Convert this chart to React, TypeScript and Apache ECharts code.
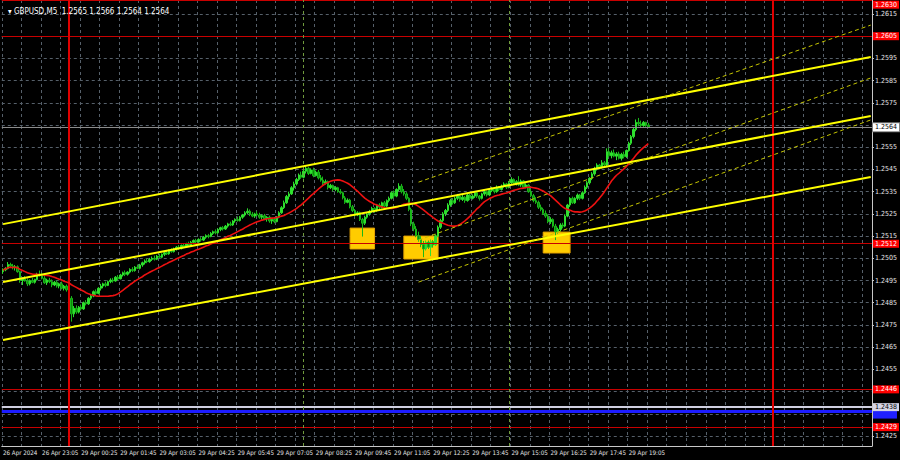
import { useEffect, useRef } from "react";
import * as echarts from "echarts";

const symbol = "GBPUSD";
const period = "M5";
const FONT = "'Liberation Sans Narrow','DejaVu Sans Condensed','Liberation Sans',Arial,sans-serif";

// ---- bars: [open, high, low, close] (M5) ----
const fridayBars = [
  [1.24990,1.25005,1.24980,1.24998],[1.24998,1.25010,1.24992,1.25004],[1.25004,1.25033,1.25000,1.25022],
  [1.25022,1.25030,1.25008,1.25015],[1.25015,1.25025,1.25000,1.25008],[1.25008,1.25020,1.24995,1.25012],
  [1.25012,1.25018,1.24985,1.24990],[1.24990,1.24994,1.24940,1.24950],[1.24950,1.24965,1.24930,1.24958],
  [1.24958,1.24970,1.24945,1.24948],[1.24948,1.24960,1.24925,1.24935],[1.24935,1.24955,1.24928,1.24950],
  [1.24950,1.24962,1.24938,1.24942],[1.24942,1.24958,1.24936,1.24955],[1.24955,1.24985,1.24950,1.24978],
  [1.24978,1.24995,1.24968,1.24972],[1.24972,1.24985,1.24955,1.24960],[1.24960,1.24970,1.24935,1.24940],
  [1.24940,1.24958,1.24930,1.24952],[1.24952,1.24962,1.24938,1.24945],[1.24945,1.24955,1.24920,1.24930],
  [1.24930,1.24948,1.24925,1.24942],[1.24942,1.24950,1.24918,1.24925],[1.24925,1.24940,1.24915,1.24935],
  [1.24935,1.24945,1.24910,1.24915],[1.24915,1.24930,1.24905,1.24925],[1.24925,1.24932,1.24900,1.24908],
];
const asiaBars = [
  [1.24908,1.24915,1.24860,1.24870],[1.24870,1.24880,1.24765,1.24800],[1.24800,1.24835,1.24785,1.24825],
  [1.24825,1.24838,1.24800,1.24808],[1.24808,1.24835,1.24802,1.24830],[1.24830,1.24842,1.24815,1.24822],
  [1.24822,1.24855,1.24818,1.24850],[1.24850,1.24862,1.24838,1.24845],[1.24845,1.24875,1.24840,1.24870],
  [1.24870,1.24888,1.24862,1.24880],[1.24880,1.24905,1.24875,1.24900],[1.24900,1.24910,1.24885,1.24892],
  [1.24892,1.24920,1.24888,1.24915],[1.24915,1.24935,1.24905,1.24925],[1.24925,1.24940,1.24915,1.24935],
  [1.24935,1.24945,1.24920,1.24928],[1.24928,1.24950,1.24925,1.24945],[1.24945,1.24960,1.24938,1.24952],
  [1.24952,1.24962,1.24940,1.24948],[1.24948,1.24970,1.24945,1.24965],[1.24965,1.24975,1.24952,1.24958],
  [1.24958,1.24980,1.24955,1.24975],[1.24975,1.24990,1.24968,1.24985],[1.24985,1.24995,1.24970,1.24978],
  [1.24978,1.24992,1.24972,1.24988],[1.24988,1.25005,1.24982,1.25000],[1.25000,1.25010,1.24988,1.24995],
  [1.24995,1.25015,1.24990,1.25010],[1.25010,1.25022,1.25002,1.25005],[1.25005,1.25025,1.25000,1.25020],
  [1.25020,1.25035,1.25012,1.25030],[1.25030,1.25045,1.25022,1.25038],[1.25038,1.25050,1.25028,1.25035],
  [1.25035,1.25052,1.25030,1.25045],
];
const preLondonBars = [
  [1.25045,1.25058,1.25038,1.25050],[1.25050,1.25062,1.25040,1.25046],[1.25046,1.25065,1.25042,1.25060],
  [1.25060,1.25070,1.25050,1.25055],[1.25055,1.25072,1.25050,1.25068],[1.25068,1.25080,1.25060,1.25075],
  [1.25075,1.25085,1.25065,1.25070],[1.25070,1.25090,1.25066,1.25085],[1.25085,1.25095,1.25075,1.25080],
  [1.25080,1.25098,1.25076,1.25092],[1.25092,1.25105,1.25085,1.25100],[1.25100,1.25110,1.25088,1.25095],
  [1.25095,1.25112,1.25090,1.25108],[1.25108,1.25118,1.25098,1.25104],[1.25104,1.25120,1.25100,1.25115],
  [1.25115,1.25125,1.25105,1.25110],[1.25110,1.25128,1.25106,1.25122],[1.25122,1.25135,1.25115,1.25130],
  [1.25130,1.25138,1.25118,1.25124],[1.25124,1.25140,1.25120,1.25135],[1.25135,1.25145,1.25125,1.25132],
  [1.25132,1.25150,1.25128,1.25145],[1.25145,1.25158,1.25138,1.25152],[1.25152,1.25160,1.25140,1.25148],
  [1.25148,1.25168,1.25145,1.25162],[1.25162,1.25175,1.25155,1.25170],[1.25170,1.25180,1.25158,1.25165],
  [1.25165,1.25185,1.25160,1.25180],[1.25180,1.25192,1.25172,1.25188],[1.25188,1.25195,1.25175,1.25182],
  [1.25182,1.25200,1.25178,1.25195],[1.25195,1.25210,1.25188,1.25205],[1.25205,1.25215,1.25195,1.25200],
  [1.25200,1.25222,1.25196,1.25218],[1.25218,1.25230,1.25210,1.25225],[1.25225,1.25238,1.25215,1.25220],
  [1.25220,1.25240,1.25216,1.25235],[1.25235,1.25250,1.25228,1.25245],[1.25245,1.25262,1.25238,1.25255],
  [1.25255,1.25275,1.25248,1.25262],[1.25262,1.25270,1.25240,1.25248],
];
const londonBars = [
  [1.25248,1.25258,1.25235,1.25240],[1.25240,1.25255,1.25232,1.25250],[1.25250,1.25262,1.25240,1.25245],
  [1.25245,1.25255,1.25228,1.25235],[1.25235,1.25248,1.25225,1.25242],[1.25242,1.25250,1.25222,1.25228],
  [1.25228,1.25240,1.25215,1.25235],[1.25235,1.25242,1.25210,1.25218],[1.25218,1.25232,1.25205,1.25225],
  [1.25225,1.25235,1.25208,1.25215],[1.25215,1.25240,1.25212,1.25235],[1.25235,1.25262,1.25230,1.25255],
  [1.25255,1.25285,1.25250,1.25278],[1.25278,1.25310,1.25272,1.25300],[1.25300,1.25335,1.25295,1.25328],
  [1.25328,1.25350,1.25315,1.25340],[1.25340,1.25375,1.25335,1.25368],[1.25368,1.25395,1.25355,1.25385],
  [1.25385,1.25412,1.25378,1.25405],[1.25405,1.25432,1.25398,1.25425],[1.25425,1.25440,1.25408,1.25415],
  [1.25415,1.25450,1.25410,1.25442],[1.25442,1.25465,1.25432,1.25455],[1.25455,1.25462,1.25425,1.25432],
  [1.25432,1.25455,1.25428,1.25448],[1.25448,1.25458,1.25415,1.25422],[1.25422,1.25445,1.25418,1.25438],
  [1.25438,1.25448,1.25405,1.25412],[1.25412,1.25425,1.25395,1.25402],[1.25402,1.25418,1.25380,1.25388],
  [1.25388,1.25405,1.25382,1.25395],[1.25395,1.25400,1.25360,1.25368],[1.25368,1.25385,1.25362,1.25378],
  [1.25378,1.25382,1.25352,1.25360],[1.25360,1.25375,1.25352,1.25368],[1.25368,1.25372,1.25345,1.25350],
  [1.25350,1.25362,1.25338,1.25345],[1.25345,1.25350,1.25315,1.25322],[1.25322,1.25330,1.25295,1.25302],
  [1.25302,1.25320,1.25298,1.25312],[1.25312,1.25318,1.25275,1.25282],[1.25282,1.25290,1.25258,1.25265],
  [1.25265,1.25272,1.25238,1.25245],[1.25245,1.25262,1.25240,1.25255],[1.25255,1.25260,1.25218,1.25225],
  [1.25225,1.25232,1.25148,1.25208],[1.25208,1.25242,1.25200,1.25235],[1.25235,1.25258,1.25228,1.25250],
  [1.25250,1.25268,1.25242,1.25260],[1.25260,1.25282,1.25255,1.25275],[1.25275,1.25280,1.25255,1.25265],
  [1.25265,1.25295,1.25260,1.25290],[1.25290,1.25298,1.25272,1.25280],[1.25280,1.25305,1.25275,1.25300],
  [1.25300,1.25308,1.25278,1.25285],[1.25285,1.25315,1.25280,1.25310],[1.25310,1.25328,1.25302,1.25320],
  [1.25320,1.25352,1.25315,1.25345],[1.25345,1.25355,1.25322,1.25330],[1.25330,1.25365,1.25325,1.25360],
  [1.25360,1.25388,1.25352,1.25375],[1.25375,1.25385,1.25342,1.25350],[1.25350,1.25362,1.25332,1.25340],
  [1.25340,1.25348,1.25312,1.25320],
];
const middayBars = [
  [1.25320,1.25325,1.25262,1.25270],[1.25270,1.25278,1.25195,1.25205],[1.25205,1.25215,1.25172,1.25182],
  [1.25182,1.25195,1.25145,1.25152],[1.25152,1.25170,1.25125,1.25135],[1.25135,1.25150,1.25100,1.25112],
  [1.25112,1.25128,1.25055,1.25092],[1.25092,1.25130,1.25085,1.25122],[1.25122,1.25130,1.25092,1.25100],
  [1.25100,1.25135,1.25060,1.25125],[1.25125,1.25132,1.25098,1.25110],[1.25110,1.25158,1.25105,1.25150],
  [1.25150,1.25198,1.25145,1.25190],[1.25190,1.25228,1.25182,1.25220],[1.25220,1.25258,1.25212,1.25250],
  [1.25250,1.25272,1.25240,1.25265],[1.25265,1.25298,1.25258,1.25290],[1.25290,1.25318,1.25282,1.25310],
  [1.25310,1.25322,1.25292,1.25300],[1.25300,1.25328,1.25295,1.25320],[1.25320,1.25340,1.25312,1.25330],
  [1.25330,1.25338,1.25305,1.25315],[1.25315,1.25335,1.25308,1.25325],[1.25325,1.25330,1.25300,1.25310],
  [1.25310,1.25342,1.25305,1.25335],[1.25335,1.25340,1.25312,1.25320],[1.25320,1.25338,1.25315,1.25330],
  [1.25330,1.25352,1.25322,1.25345],[1.25345,1.25350,1.25322,1.25330],[1.25330,1.25335,1.25310,1.25320],
  [1.25320,1.25345,1.25315,1.25340],[1.25340,1.25358,1.25332,1.25350],[1.25350,1.25355,1.25328,1.25335],
  [1.25335,1.25362,1.25330,1.25355],[1.25355,1.25372,1.25348,1.25365],[1.25365,1.25370,1.25342,1.25350],
  [1.25350,1.25378,1.25345,1.25370],[1.25370,1.25375,1.25352,1.25360],[1.25360,1.25382,1.25355,1.25375],
  [1.25375,1.25392,1.25368,1.25385],[1.25385,1.25390,1.25362,1.25370],[1.25370,1.25398,1.25365,1.25390],
  [1.25390,1.25415,1.25385,1.25405],[1.25405,1.25410,1.25380,1.25385],[1.25385,1.25402,1.25378,1.25395],
  [1.25395,1.25420,1.25375,1.25380],
];
const newYorkBars = [
  [1.25380,1.25405,1.25372,1.25398],[1.25398,1.25402,1.25362,1.25370],[1.25370,1.25388,1.25365,1.25380],
  [1.25380,1.25385,1.25345,1.25350],[1.25350,1.25362,1.25325,1.25332],[1.25332,1.25340,1.25302,1.25310],
  [1.25310,1.25325,1.25295,1.25302],[1.25302,1.25310,1.25272,1.25280],[1.25280,1.25292,1.25262,1.25270],
  [1.25270,1.25278,1.25245,1.25252],[1.25252,1.25265,1.25232,1.25240],[1.25240,1.25248,1.25208,1.25215],
  [1.25215,1.25235,1.25205,1.25225],[1.25225,1.25230,1.25188,1.25195],[1.25195,1.25205,1.25132,1.25170],
  [1.25170,1.25188,1.25160,1.25180],[1.25180,1.25208,1.25172,1.25200],[1.25200,1.25210,1.25185,1.25195],
  [1.25195,1.25248,1.25190,1.25240],[1.25240,1.25295,1.25235,1.25290],[1.25290,1.25325,1.25282,1.25320],
  [1.25320,1.25328,1.25295,1.25300],[1.25300,1.25325,1.25295,1.25320],[1.25320,1.25342,1.25312,1.25335],
  [1.25335,1.25340,1.25312,1.25320],[1.25320,1.25352,1.25315,1.25345],[1.25345,1.25378,1.25340,1.25370],
  [1.25370,1.25398,1.25362,1.25390],[1.25390,1.25415,1.25382,1.25410],[1.25410,1.25438,1.25402,1.25430],
  [1.25430,1.25462,1.25422,1.25455],[1.25455,1.25478,1.25445,1.25470],[1.25470,1.25475,1.25450,1.25460],
  [1.25460,1.25492,1.25455,1.25480],[1.25480,1.25488,1.25462,1.25470],[1.25470,1.25545,1.25465,1.25530],
  [1.25530,1.25548,1.25505,1.25512],[1.25512,1.25535,1.25500,1.25525],[1.25525,1.25540,1.25505,1.25510],
  [1.25510,1.25528,1.25492,1.25520],[1.25520,1.25530,1.25495,1.25500],[1.25500,1.25525,1.25490,1.25518],
  [1.25518,1.25530,1.25500,1.25508],[1.25508,1.25540,1.25502,1.25535],[1.25535,1.25575,1.25530,1.25568],
  [1.25568,1.25605,1.25560,1.25598],[1.25598,1.25640,1.25590,1.25630],[1.25630,1.25675,1.25622,1.25662],
  [1.25662,1.25682,1.25645,1.25655],[1.25655,1.25670,1.25640,1.25648],[1.25648,1.25668,1.25642,1.25662],
  [1.25662,1.25665,1.25642,1.25650],[1.25650,1.25660,1.25640,1.25640],
];

// ---- axes ----
const SESSION_DAYS = ["26 Apr", "29 Apr", "30 Apr"];
const FIRST_SLOT_MINUTES = 21 * 60 + 45; // 26 Apr 21:45
const SLOT_COUNT = 356; // bars + empty future slots shown to the right
const LABEL_EVERY = 16;
const TICK_EVERY = 8;
const timeLabels = [
  "26 Apr 2024", "26 Apr 23:05", "29 Apr 00:25", "29 Apr 01:45", "29 Apr 03:05", "29 Apr 04:25",
  "29 Apr 05:45", "29 Apr 07:05", "29 Apr 08:25", "29 Apr 09:45", "29 Apr 11:05", "29 Apr 12:25",
  "29 Apr 13:45", "29 Apr 15:05", "29 Apr 16:25", "29 Apr 17:45", "29 Apr 19:05",
];
const Y_MIN = 1.24205;
const Y_MAX = 1.26213;
const gridPrices = [
  1.2425, 1.2435, 1.2445, 1.2455, 1.2465, 1.2475, 1.2485, 1.2495, 1.2505, 1.2515,
  1.2525, 1.2535, 1.2545, 1.2555, 1.2565, 1.2575, 1.2585, 1.2595, 1.2605, 1.2615,
];
const priceLabels = [
  1.2425, 1.2455, 1.2465, 1.2475, 1.2485, 1.2495, 1.2505, 1.2515, 1.2525, 1.2535,
  1.2545, 1.2555, 1.2575, 1.2585, 1.2595, 1.2615,
];

// ---- drawn objects ----
const MA_PERIOD = 20;
const redLevels = [1.2630, 1.2605, 1.2512, 1.2446, 1.2429];
const greyLevel = 1.2438;
const blueLevel = 1.2436;
const daySeparators = ["29 Apr 00:00", "30 Apr 00:00"];
const sessionMarks = ["29 Apr 08:00", "29 Apr 15:00"];
const trendUpper = [1.25204, 1.25956];
const trendMiddle = [1.24943, 1.25691];
const trendLower = [1.24682, 1.25416];
const regStart = "29 Apr 11:55";
const regUpper = [1.25393, 1.26100];
const regMiddle = [1.25132, 1.25862];
const regLower = [1.24943, 1.25673];
const boxFrom = ["29 Apr 09:35", "29 Apr 11:25", "29 Apr 16:10"];
const boxTo = ["29 Apr 10:25", "29 Apr 12:35", "29 Apr 17:05"];
const boxTop = [1.25186, 1.25150, 1.25168];
const boxBottom = [1.25092, 1.25047, 1.25074];

const pad = (n: number) => (n < 10 ? "0" + n : "" + n);

function buildCategories(): string[] {
  const out: string[] = [];
  let day = 0;
  let m = FIRST_SLOT_MINUTES;
  for (let i = 0; i < SLOT_COUNT; i++) {
    out.push(`${SESSION_DAYS[day]} ${pad(Math.floor(m / 60))}:${pad(m % 60)}`);
    m += 5;
    if (m >= 1440) { m = 0; day++; }
  }
  return out;
}

export default function App() {
  const ref = useRef<HTMLDivElement>(null);
  useEffect(() => {
    if (!ref.current) return;
    const chart = echarts.init(ref.current, undefined, { renderer: "svg" });
    const bars = [...fridayBars, ...asiaBars, ...preLondonBars, ...londonBars, ...middayBars, ...newYorkBars];
    const categories = buildCategories();
    const labelByCategory: Record<string, string> = {};
    timeLabels.forEach((t, k) => { labelByCategory[categories[k * LABEL_EVERY]] = t; });
    const closes = bars.map((b) => b[3]);
    const ma = closes.map((_, i) => {
      const s = Math.max(0, i - MA_PERIOD + 1);
      const w = closes.slice(s, i + 1);
      return +(w.reduce((a, b) => a + b, 0) / w.length).toFixed(5);
    });
    const last = bars[bars.length - 1];
    const first = categories[0];
    const end = categories[SLOT_COUNT - 1];

    const seg = (name: string, a: string, b: string, v: number[], color: string, width: number, type: any) => ({
      name, type: "line", data: [[a, v[0]], [b, v[1]]], showSymbol: false, silent: true, z: 6,
      lineStyle: { color, width, type }, animation: false,
    });

    const lvlLabel = (bg: string, fg: string, text: string, border?: string, dy = 0) => ({
      show: true, position: "end", distance: 1, formatter: text, backgroundColor: bg, color: fg,
      fontSize: 7, lineHeight: 7, fontFamily: FONT, padding: [1, 2, 0, 2], offset: [0, dy],
      borderColor: border || bg, borderWidth: border ? 1 : 0,
    });

    const markLines: any[] = [];
    markLines.push({ yAxis: blueLevel, lineStyle: { color: "#1c1cff", width: 3, type: "solid" },
      label: { ...lvlLabel("#2020ff", "#ffffff", " ", undefined, 3), width: 20 } });
    markLines.push({ yAxis: greyLevel, lineStyle: { color: "#cfcfe0", width: 2, type: "solid" },
      label: lvlLabel("#d4d4e4", "#000000", greyLevel.toFixed(4)) });
    redLevels.forEach((p) => {
      const clamped = p > Y_MAX;
      markLines.push({ yAxis: Math.min(p, Y_MAX), lineStyle: { color: "#c80000", width: 1, type: "solid" },
        label: lvlLabel("#ff0000", "#ffffff", p.toFixed(4), undefined, clamped ? 4 : p === 1.2512 ? 1 : 0) });
    });
    markLines.push({ yAxis: last[3], lineStyle: { color: "#8c8c8c", width: 1, type: "solid" },
      label: lvlLabel("#ffffff", "#000000", last[3].toFixed(4), "#808080") });
    daySeparators.forEach((t) => {
      markLines.push({ xAxis: t, lineStyle: { color: "#e00000", width: 2, type: "solid" }, label: { show: false } });
    });
    sessionMarks.forEach((t) => {
      markLines.push({ xAxis: t, lineStyle: { color: "#6f9a3c", width: 1, type: [3, 3] }, label: { show: false } });
    });

    const areas = boxFrom.map((f, i) => [
      { xAxis: f, yAxis: boxTop[i] },
      { xAxis: boxTo[i], yAxis: boxBottom[i] },
    ]);

    const option: any = {
      animation: false,
      backgroundColor: "#000000",
      title: {
        text: `▾ ${symbol},${period}  ${last[0].toFixed(4)} ${last[1].toFixed(4)} ${last[2].toFixed(4)} ${last[3].toFixed(4)}`,
        left: 3, top: 2,
        textStyle: { color: "#ffffff", fontSize: 8, fontWeight: "normal", fontFamily: FONT },
      },
      grid: { left: 0, right: 24, top: 0, bottom: 14 },
      xAxis: {
        type: "category", data: categories, boundaryGap: true,
        axisLine: { lineStyle: { color: "#c8c8c8", width: 1 } },
        axisTick: { alignWithLabel: true, interval: TICK_EVERY - 1, length: 3, lineStyle: { color: "#c8c8c8" } },
        axisLabel: {
          interval: LABEL_EVERY - 1,
          formatter: (v: string) => labelByCategory[v] ?? "",
          align: "left", color: "#e6e6e6", fontSize: 6.2, fontFamily: FONT, margin: 3,
          hideOverlap: false,
        },
        splitLine: { show: true, interval: TICK_EVERY - 1, lineStyle: { color: "#56606a", type: [3, 3], width: 1 } },
      },
      yAxis: {
        type: "value", position: "right", min: Y_MIN, max: Y_MAX,
        axisLine: { show: true, lineStyle: { color: "#c8c8c8", width: 1 } },
        axisTick: { show: true, length: 2, customValues: gridPrices, lineStyle: { color: "#c8c8c8" } },
        axisLabel: { customValues: priceLabels, formatter: (v: number) => v.toFixed(4), color: "#e6e6e6", fontSize: 7, fontFamily: FONT, margin: 3 },
        splitLine: { show: true, lineStyle: { color: "#56606a", type: [3, 3], width: 1 } },
      },
      series: [
        {
          name: `${symbol},${period}`, type: "candlestick", z: 3,
          data: bars.map(([o, h, l, c]) => [o, c, l, h]),
          barWidth: 2,
          itemStyle: { color: "#2ee02e", color0: "#0b8a0b", borderColor: "#2ee02e", borderColor0: "#19b819", borderWidth: 1 },
          markArea: {
            silent: true,
            itemStyle: { color: "#ffcc00", borderColor: "#e8a400", borderWidth: 1 },
            label: { show: false },
            data: areas,
          },
          markLine: { silent: true, symbol: ["none", "none"], precision: 4, data: markLines },
        },
        {
          name: "MA", type: "line", data: ma, showSymbol: false, silent: true, z: 5,
          lineStyle: { color: "#ee1111", width: 1.6 },
        },
        seg("trendUpper", first, end, trendUpper, "#ffff00", 2, "solid"),
        seg("trendMiddle", first, end, trendMiddle, "#ffff00", 2, "solid"),
        seg("trendLower", first, end, trendLower, "#ffff00", 2, "solid"),
        seg("regUpper", regStart, end, regUpper, "#c4c400", 1, [4, 3]),
        seg("regMiddle", regStart, end, regMiddle, "#c4c400", 1, [4, 3]),
        seg("regLower", regStart, end, regLower, "#c4c400", 1, [4, 3]),
      ],
    };
    chart.setOption(option);
    return () => chart.dispose();
  }, []);
  return <div ref={ref} style={{ position: "fixed", left: 0, top: 0, width: 900, height: 460 }} />;
}
